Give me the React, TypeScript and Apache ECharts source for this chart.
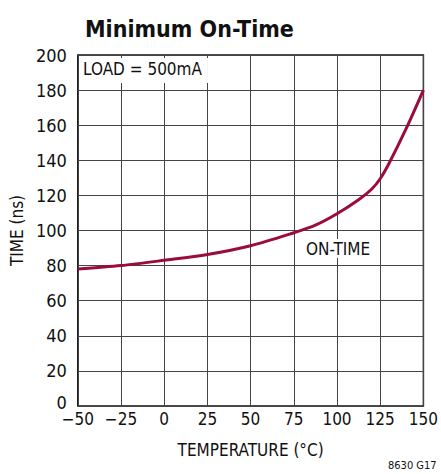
import React, { useEffect, useRef } from "react";
import * as echarts from "echarts";

const temperatures = [-50, -25, 0, 25, 50, 75, 87.5, 100, 112.5, 120, 125, 130, 140, 150];
const onTime = [78, 80, 83, 86.3, 91.3, 98.7, 103, 109.5, 117.5, 123.5, 129.5, 138, 158, 180];
const xTicks = [-50, -25, 0, 25, 50, 75, 100, 125, 150];

const FONT = "'Liberation Sans Narrow', 'DejaVu Sans Condensed', 'Liberation Sans', sans-serif";

export default function App() {
  const ref = useRef<HTMLDivElement>(null);
  useEffect(() => {
    if (!ref.current) return;
    const chart = echarts.init(ref.current, undefined, { renderer: "svg" });
    chart.setOption({
      animation: false,
      backgroundColor: "#ffffff",
      textStyle: { fontFamily: FONT },
      title: {
        text: "Minimum On-Time",
        left: 80,
        top: 12,
        textStyle: { fontFamily: FONT, fontSize: 23, fontWeight: "bold", color: "#111" },
      },
      grid: {
        left: 76,
        right: 13,
        top: 55,
        bottom: 68,
        show: true,
        borderColor: "#111",
        borderWidth: 1.5,
        backgroundColor: "transparent",
      },
      xAxis: {
        type: "value",
        min: -50,
        max: 150,
        interval: 25,
        name: "TEMPERATURE (°C)",
        nameLocation: "middle",
        nameGap: 35,
        nameTextStyle: { fontFamily: FONT, fontSize: 17, color: "#111" },
        axisLine: { show: false },
        axisTick: { show: false },
        splitLine: { show: true, lineStyle: { color: "#444", width: 1 } },
        axisLabel: {
          fontFamily: FONT,
          fontSize: 17,
          color: "#111",
          margin: 4,
          formatter: (v: number) => (xTicks.includes(v) ? String(v).replace("-", "\u2212") : ""),
        },
      },
      yAxis: {
        type: "value",
        min: 0,
        max: 200,
        interval: 20,
        name: "TIME (ns)",
        nameLocation: "middle",
        nameGap: 41,
        nameRotate: 90,
        nameTextStyle: { fontFamily: FONT, fontSize: 17, color: "#111" },
        axisLine: { show: false },
        axisTick: { show: false },
        splitLine: { show: true, lineStyle: { color: "#444", width: 1 } },
        axisLabel: {
          fontFamily: FONT,
          fontSize: 18,
          color: "#111",
          margin: 11,
          formatter: (v: number) => (v === 0 ? "{z|0}" : String(v)),
          rich: {
            z: { fontFamily: FONT, fontSize: 18, color: "#111", padding: [0, 0, 8, 0] },
          },
        },
      },
      series: [
        {
          type: "line",
          data: temperatures.map((t, i) => [t, onTime[i]]),
          smooth: 0.3,
          symbol: "none",
          lineStyle: { color: "#9b0c3c", width: 3 },
          z: 3,
        },
      ],
      graphic: [
        {
          type: "text",
          left: 79,
          top: 58,
          z: 10,
          style: {
            text: "LOAD = 500mA",
            fontFamily: FONT,
            fontSize: 17,
            fill: "#111",
            backgroundColor: "#ffffff",
            padding: [2, 6, 6, 4],
          },
        },
        {
          type: "text",
          left: 303,
          top: 239,
          z: 10,
          style: {
            text: "ON-TIME",
            fontFamily: FONT,
            fontSize: 17,
            fill: "#111",
            backgroundColor: "#ffffff",
            padding: [1, 3, 1, 3],
          },
        },
        {
          type: "text",
          left: 388,
          top: 460,
          style: { text: "8630 G17", fontFamily: FONT, fontSize: 11, fill: "#111" },
        },
      ],
    });
    return () => chart.dispose();
  }, []);
  return (
    <div
      ref={ref}
      style={{ position: "absolute", left: 0, top: 0, width: 441, height: 474 }}
    />
  );
}
